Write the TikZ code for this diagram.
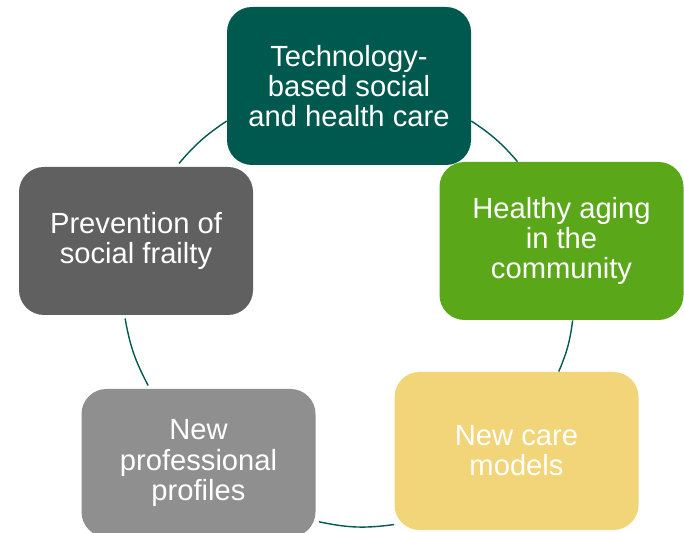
\documentclass[tikz,border=0pt]{standalone}
\usepackage{fontspec}
\setmainfont{Liberation Sans}
\usetikzlibrary{backgrounds}
\definecolor{techteal}{HTML}{00594F}
\definecolor{aginggreen}{HTML}{5AA71A}
\definecolor{careyellow}{HTML}{F1D578}
\definecolor{profgray}{HTML}{8F8F8F}
\definecolor{frailgray}{HTML}{606060}
\definecolor{ringline}{HTML}{005A50}
\begin{document}
\begin{tikzpicture}[
  box/.style={rounded corners=0.5cm, inner sep=0pt, align=center, text=white,
    font=\fontsize{16.6}{17.1}\selectfont},
  bigbox/.style={box, minimum width=4.88cm, minimum height=3.16cm},
  smallbox/.style={box, minimum width=4.68cm, minimum height=2.96cm, outer sep=2pt},
  ring/.style={draw=ringline, line width=0.8pt}]

  \useasboundingbox (0,0) rectangle (13.68,10.66);

  \node[bigbox, fill=techteal] (tech) at (6.98,8.94) {Technology-\\based social\\and health care};
  \node[bigbox, fill=aginggreen] (aging) at (11.23,5.84) {Healthy aging\\in the\\community};
  \node[bigbox, fill=careyellow] (care) at (10.33,1.64) {New care\\models};
  \node[smallbox, fill=profgray] (prof) at (3.97,1.40) {New\\professional\\profiles};
  \node[smallbox, fill=frailgray] (frail) at (2.72,5.84) {Prevention of\\social frailty};

  \begin{scope}[on background layer]
  \draw[ring] (tech.196) to[bend right=8] (frail.61);
  \draw[ring] (frail.262) to[bend right=9] (prof.123);
  \draw[ring] (prof.334) to[bend right=10] (care.211);
  \draw[ring] (care.62) to[bend right=8] (aging.278);
  \draw[ring] (aging.119) to[bend right=8] (tech.344);
  \end{scope}

\end{tikzpicture}
\end{document}
